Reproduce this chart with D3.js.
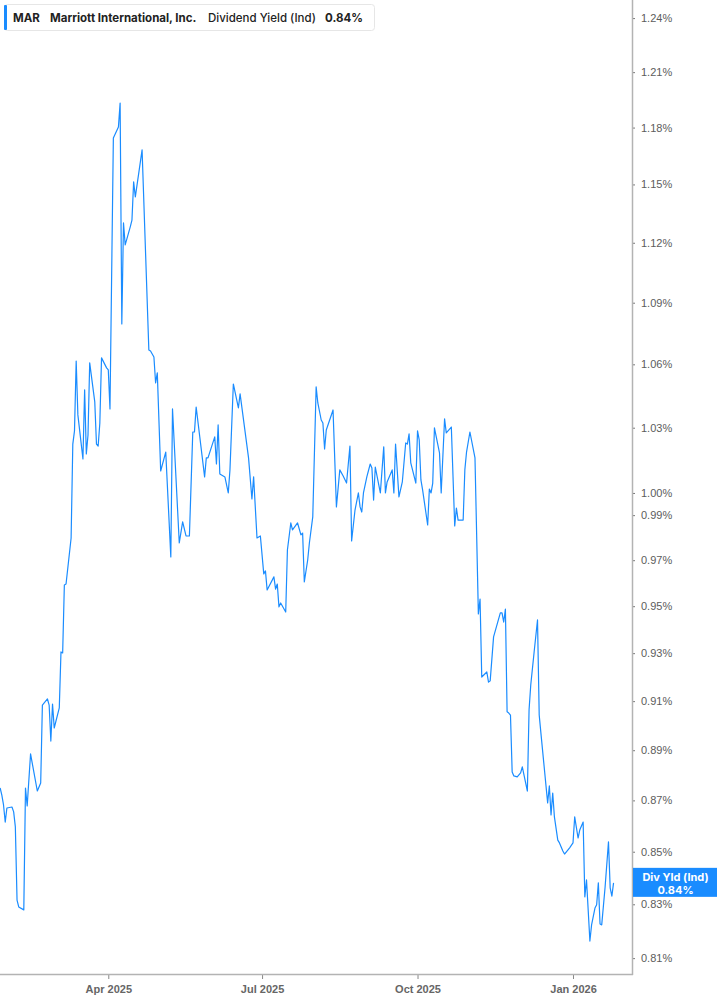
<!DOCTYPE html>
<html>
<head>
<meta charset="utf-8">
<script src="https://cdn.jsdelivr.net/npm/d3@7"></script>
<style>
  html, body { margin: 0; padding: 0; background: #fff; }
  svg { display: block; font-family: Inter, "Noto Sans", sans-serif; }
</style>
</head>
<body>
<div id="chart"></div>
<script>
// MAR dividend yield (ind), % values
var dates = [
  '2025-01-27','2025-01-28','2025-01-29','2025-01-30','2025-01-31','2025-02-03','2025-02-04','2025-02-05','2025-02-06','2025-02-07',
  '2025-02-10','2025-02-11','2025-02-12','2025-02-14','2025-02-18','2025-02-20','2025-02-21','2025-02-24','2025-02-25','2025-02-26',
  '2025-02-27','2025-02-28','2025-03-03','2025-03-04','2025-03-05','2025-03-06','2025-03-07','2025-03-10','2025-03-11','2025-03-12',
  '2025-03-13','2025-03-14','2025-03-17','2025-03-18','2025-03-19','2025-03-20','2025-03-21','2025-03-24','2025-03-25','2025-03-26',
  '2025-03-27','2025-03-28','2025-03-31','2025-04-01','2025-04-02','2025-04-04','2025-04-07','2025-04-08','2025-04-09','2025-04-10',
  '2025-04-11','2025-04-14','2025-04-15','2025-04-16','2025-04-17','2025-04-21','2025-04-25','2025-04-26','2025-04-28','2025-04-29',
  '2025-04-30','2025-05-02','2025-05-05','2025-05-08','2025-05-09','2025-05-13','2025-05-15','2025-05-17','2025-05-19','2025-05-21',
  '2025-05-22','2025-05-23','2025-05-28','2025-05-29','2025-05-30','2025-06-03','2025-06-04','2025-06-05','2025-06-06','2025-06-09',
  '2025-06-11','2025-06-12','2025-06-14','2025-06-17','2025-06-18','2025-06-23','2025-06-25','2025-06-26','2025-06-28','2025-06-30',
  '2025-07-02','2025-07-03','2025-07-04','2025-07-08','2025-07-09','2025-07-10','2025-07-11','2025-07-12','2025-07-15','2025-07-16',
  '2025-07-18','2025-07-19','2025-07-22','2025-07-24','2025-07-25','2025-07-26','2025-07-28','2025-07-29','2025-07-31','2025-08-02',
  '2025-08-03','2025-08-05','2025-08-06','2025-08-07','2025-08-08','2025-08-12','2025-08-14','2025-08-16','2025-08-18','2025-08-20',
  '2025-08-22','2025-08-23','2025-08-25','2025-08-27','2025-08-28','2025-08-29','2025-08-30','2025-09-01','2025-09-03','2025-09-04',
  '2025-09-05','2025-09-06','2025-09-09','2025-09-11','2025-09-12','2025-09-13','2025-09-16','2025-09-17','2025-09-18','2025-09-20',
  '2025-09-22','2025-09-24','2025-09-25','2025-09-26','2025-09-27','2025-09-30','2025-10-01','2025-10-02','2025-10-03','2025-10-04',
  '2025-10-07','2025-10-08','2025-10-09','2025-10-10','2025-10-11','2025-10-14','2025-10-15','2025-10-17','2025-10-18','2025-10-21',
  '2025-10-23','2025-10-24','2025-10-25','2025-10-28','2025-10-29','2025-10-30','2025-11-01','2025-11-04','2025-11-06','2025-11-07',
  '2025-11-08','2025-11-11','2025-11-12','2025-11-13','2025-11-15','2025-11-19','2025-11-20','2025-11-21','2025-11-22','2025-11-23',
  '2025-11-24','2025-11-25','2025-11-26','2025-11-27','2025-11-29','2025-12-01','2025-12-02','2025-12-05','2025-12-06','2025-12-07',
  '2025-12-09','2025-12-11','2025-12-12','2025-12-13','2025-12-17','2025-12-18','2025-12-19','2025-12-20','2025-12-21','2025-12-23',
  '2025-12-24','2025-12-26','2025-12-27','2025-12-30','2026-01-01','2026-01-02','2026-01-04','2026-01-05','2026-01-07','2026-01-08',
  '2026-01-09','2026-01-11','2026-01-12','2026-01-14','2026-01-15','2026-01-16','2026-01-17','2026-01-18','2026-01-20','2026-01-22',
  '2026-01-23','2026-01-24','2026-01-25'
];
var yields = [
  0.8749,0.8721,0.8682,0.8615,0.8670,0.8674,0.8655,0.8596,0.8316,0.8290,
  0.8279,0.8749,0.8678,0.8885,0.8737,0.8769,0.9084,0.9109,0.9084,0.8937,
  0.9088,0.8990,0.9072,0.9305,0.9301,0.9592,0.9596,0.9798,1.0224,1.0285,
  1.0616,1.0360,1.0155,1.0478,1.0178,1.0266,1.0607,1.0421,1.0224,1.0215,
  1.0322,1.0631,1.0583,1.0573,1.0388,1.1745,1.1803,1.1932,1.0796,1.1301,
  1.1189,1.1281,1.1316,1.1513,1.1435,1.1681,1.0669,1.0664,1.0635,1.0511,
  1.0559,1.0100,1.0187,0.9714,1.0388,0.9776,0.9870,0.9807,0.9807,1.0280,
  1.0280,1.0397,1.0073,1.0160,1.0160,1.0257,1.0132,1.0313,1.0086,1.0073,
  1.0000,1.0105,1.0506,1.0393,1.0459,1.0160,0.9973,1.0073,0.9798,0.9807,
  0.9640,0.9653,0.9570,0.9627,0.9574,0.9596,0.9497,0.9514,0.9475,0.9745,
  0.9865,0.9834,0.9865,0.9812,0.9820,0.9605,0.9701,0.9776,0.9892,1.0492,
  1.0416,1.0336,1.0322,1.0201,1.0289,1.0383,0.9937,1.0105,1.0077,1.0045,
  1.0215,0.9785,0.9923,1.0000,0.9937,0.9914,1.0000,1.0073,1.0132,1.0114,
  0.9968,1.0118,1.0000,1.0211,1.0000,1.0050,1.0105,1.0000,1.0224,0.9982,
  1.0050,1.0229,1.0224,1.0271,1.0137,1.0045,1.0285,1.0243,1.0059,1.0014,
  0.9856,1.0018,1.0000,1.0045,1.0299,1.0183,1.0000,1.0341,1.0276,1.0303,
  0.9852,0.9932,0.9878,0.9878,1.0105,1.0187,1.0280,1.0160,0.9467,0.9531,
  0.9200,0.9221,0.9179,0.9184,0.9369,0.9471,0.9471,0.9432,0.9488,0.9056,
  0.9051,0.9043,0.8813,0.8797,0.8793,0.8809,0.8833,0.8737,0.9064,0.9167,
  0.9305,0.9441,0.9043,0.8970,0.8690,0.8757,0.8643,0.8729,0.8635,0.8545,
  0.8534,0.8503,0.8491,0.8515,0.8534,0.8635,0.8553,0.8584,0.8615,0.8328,
  0.8392,0.8163,0.8223,0.8286,0.8298,0.8381,0.8226,0.8223,0.8365,0.8538,
  0.8362,0.8331,0.8381
];
var yTicks = [0.81, 0.83, 0.85, 0.87, 0.89, 0.91, 0.93, 0.95, 0.97, 0.99, 1.00,
              1.03, 1.06, 1.09, 1.12, 1.15, 1.18, 1.21, 1.24];
var xTicks = ['2025-04-01', '2025-07-01', '2025-10-01', '2026-01-01'];
var xDomain = [new Date(2025, 0, 26, 22), new Date(2026, 1, 4, 22)];
var yDomain = [0.8042, 1.2502];

var ticker = 'MAR', company = 'Marriott International, Inc.',
    metric = 'Dividend Yield (Ind)', tagName = 'Div Yld (Ind)';

var W = 717, H = 1005, plotW = 632, plotH = 974;
var BLUE = '#1a8cff', AXIS = '#b3b3b3', TXT = '#5c5c5c';

var parse = d3.timeParse('%Y-%m-%d');
var data = dates.map(function(d, i) { return {date: parse(d), v: yields[i]}; });
var last = data[data.length - 1];

var svg = d3.select('#chart').append('svg')
  .attr('width', W).attr('height', H);

var x = d3.scaleTime().domain(xDomain).range([0, plotW]);
var y = d3.scaleLog().domain(yDomain).range([plotH, 0]);

svg.append('defs').append('clipPath').attr('id', 'plot-clip')
  .append('rect').attr('width', plotW).attr('height', plotH);

// series line
var line = d3.line()
  .x(function(d) { return x(d.date); })
  .y(function(d) { return y(d.v); });

svg.append('g').attr('clip-path', 'url(#plot-clip)')
  .append('path')
  .datum(data)
  .attr('d', line)
  .attr('fill', 'none')
  .attr('stroke', BLUE)
  .attr('stroke-width', 1.2)
  .attr('stroke-linejoin', 'round');

// right y axis
var yAxis = d3.axisRight(y)
  .tickValues(yTicks)
  .tickSize(3)
  .tickPadding(6)
  .tickFormat(function(d) { return d3.format('.2f')(d) + '%'; });

var gy = svg.append('g').attr('transform', 'translate(' + plotW + ',0)').call(yAxis);
gy.select('.domain').remove();
gy.selectAll('line').attr('stroke', '#777');
gy.selectAll('text').attr('fill', TXT).style('font-size', '11px');
svg.append('line')
  .attr('x1', plotW + 0.5).attr('x2', plotW + 0.5)
  .attr('y1', 0).attr('y2', plotH + 1)
  .attr('stroke', AXIS).attr('stroke-width', 1.5);

// bottom x axis
var xAxis = d3.axisBottom(x)
  .tickValues(xTicks.map(parse))
  .tickSize(5)
  .tickPadding(6)
  .tickFormat(d3.timeFormat('%b %Y'));

var gx = svg.append('g').attr('transform', 'translate(0,' + plotH + ')').call(xAxis);
gx.select('.domain').remove();
gx.selectAll('line').attr('stroke', '#888');
gx.selectAll('text').attr('fill', '#666').style('font-size', '11px').style('font-weight', 600);
svg.append('line')
  .attr('x1', 0).attr('x2', plotW + 1)
  .attr('y1', plotH + 0.5).attr('y2', plotH + 0.5)
  .attr('stroke', AXIS).attr('stroke-width', 1.5);

// last value tag on the axis
var ty = y(last.v);
var tag = svg.append('g').attr('transform', 'translate(' + (plotW + 1) + ',' + ty + ')');
tag.append('rect')
  .attr('x', 0).attr('y', -15).attr('width', W - plotW - 1).attr('height', 29)
  .attr('fill', BLUE);
tag.append('text')
  .attr('x', (W - plotW) / 2).attr('y', -2)
  .attr('text-anchor', 'middle').attr('fill', '#fff')
  .style('font-size', '11px').style('font-weight', 700)
  .text(tagName);
tag.append('text')
  .attr('x', (W - plotW) / 2).attr('y', 11)
  .attr('text-anchor', 'middle').attr('fill', '#fff')
  .style('font-size', '11px').style('font-weight', 700)
  .text(d3.format('.2f')(last.v) + '%');

// legend box
var lg = svg.append('g').attr('transform', 'translate(4,4)');
lg.append('rect')
  .attr('x', 0.5).attr('y', 0.5).attr('width', 370).attr('height', 26)
  .attr('rx', 3).attr('fill', '#fff').attr('stroke', '#e6e6e6');
lg.append('rect')
  .attr('x', 0).attr('y', 1).attr('width', 3).attr('height', 25)
  .attr('rx', 1).attr('fill', BLUE);
var legendTexts = [
  {t: ticker, x: 9, w: 700},
  {t: company, x: 46, w: 700},
  {t: metric, x: 204, w: 500},
  {t: d3.format('.2f')(last.v) + '%', x: 321, w: 700}
];
lg.selectAll('text.lg').data(legendTexts).enter()
  .append('text')
  .attr('class', 'lg')
  .attr('x', function(d) { return d.x; })
  .attr('y', 17.5)
  .attr('fill', '#222')
  .style('font-size', '11.5px')
  .style('font-weight', function(d) { return d.w; })
  .text(function(d) { return d.t; });
</script>
</body>
</html>
